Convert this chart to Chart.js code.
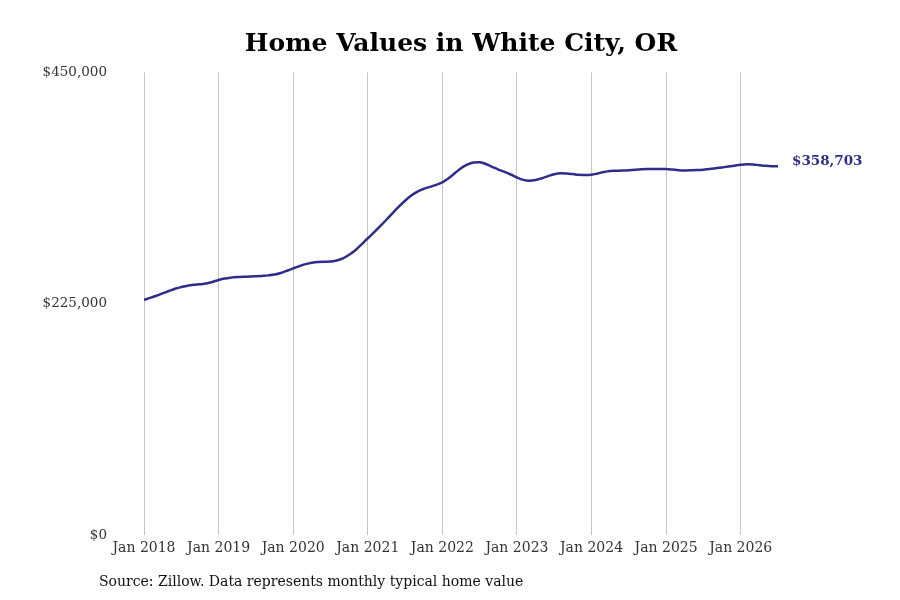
<!DOCTYPE html>
<html>
<head>
<meta charset="utf-8">
<script src="https://cdn.jsdelivr.net/npm/chart.js@4.4.1/dist/chart.umd.min.js"></script>
<style>
  html, body { margin: 0; padding: 0; background: #fff; }
  #wrap { position: relative; width: 900px; height: 600px; }
  #c { position: absolute; left: 0; top: 0; }
  #source { position: absolute; left: 99px; top: 573px; font-family: "DejaVu Serif", serif; font-size: 14px; color: #111; white-space: nowrap; }
</style>
</head>
<body>
<div id="wrap">
  <canvas id="c" width="900" height="600"></canvas>
  <div id="source">Source: Zillow. Data represents monthly typical home value</div>
</div>
<script>
const titleText = 'Home Values in White City, OR';
// Month index 0 = Jan 2018 ... 102 = Jul 2026
const homeValues = [
  228900, 230800, 232900, 235200, 237500, 239700, 241300, 242700, 243500, 244000, 244700, 246300,
  248200, 249700, 250500, 251000, 251300, 251500, 251800, 252200, 252700, 253500, 255000, 257200,
  259500, 261700, 263600, 265000, 265800, 266000, 266100, 267200, 269300, 272800, 277200, 282800,
  288800, 294500, 300500, 306800, 313300, 319500, 325300, 330300, 334200, 336800, 338800, 340700,
  343200, 347200, 352000, 356900, 360500, 362500, 362800, 361000, 358300, 355600, 353300, 350800,
  347900, 345600, 344800, 345500, 347200, 349200, 351000, 351900, 351800, 351200, 350500, 350200,
  350500, 351800, 353200, 354100, 354400, 354600, 355000, 355500, 355900, 356100, 356200, 356200,
  356100, 355600, 355000, 354800, 354900, 355100, 355500, 356100, 356900, 357700, 358500, 359400,
  360300, 360800, 360600, 359900, 359200, 358800, 358703
];
const xTickLabels = ['Jan 2018','Jan 2019','Jan 2020','Jan 2021','Jan 2022','Jan 2023','Jan 2024','Jan 2025','Jan 2026'];
const xTickMonths = [0, 12, 24, 36, 48, 60, 72, 84, 96];
const yTicks = [0, 225000, 450000];
const endLabel = '$358,703';

const lineColor = '#302d8a';
const points = homeValues.map((v, i) => ({ x: i, y: v }));

const endLabelPlugin = {
  id: 'endLabel',
  afterDatasetsDraw(chart) {
    const meta = chart.getDatasetMeta(0);
    const last = meta.data[meta.data.length - 1];
    const ctx = chart.ctx;
    ctx.save();
    ctx.font = 'bold 13.5px "DejaVu Serif"';
    ctx.fillStyle = lineColor;
    ctx.textAlign = 'left';
    ctx.textBaseline = 'middle';
    ctx.fillText(endLabel, last.x + 14, last.y - 5);
    ctx.restore();
  }
};

new Chart(document.getElementById('c'), {
  type: 'line',
  data: {
    datasets: [{
      data: points,
      borderColor: lineColor,
      borderWidth: 2.5,
      pointRadius: 0,
      fill: false,
      cubicInterpolationMode: 'monotone'
    }]
  },
  options: {
    responsive: false,
    animation: false,
    layout: { padding: { left: 0, right: 122, top: 0, bottom: 38 } },
    plugins: {
      legend: { display: false },
      tooltip: { enabled: false },
      title: {
        display: true,
        text: titleText,
        fullSize: false,
        color: '#000',
        font: { family: 'DejaVu Serif', size: 25, weight: 'bold', lineHeight: 1.2 },
        padding: { top: 29, bottom: 13.5 }
      }
    },
    scales: {
      x: {
        type: 'linear',
        min: 0,
        max: homeValues.length - 1,
        afterBuildTicks(scale) { scale.ticks = xTickMonths.map(v => ({ value: v })); },
        ticks: {
          autoSkip: false,
          maxRotation: 0,
          padding: 5,
          color: '#333',
          font: { family: 'DejaVu Serif', size: 14 },
          callback(v) { const i = xTickMonths.indexOf(v); return i >= 0 ? xTickLabels[i] : ''; }
        },
        grid: { display: true, color: '#c4c4c4', lineWidth: 1, drawTicks: false },
        border: { display: false }
      },
      y: {
        min: 0,
        max: 450000,
        afterFit(scale) { scale.width = 144; },
        afterBuildTicks(scale) { scale.ticks = yTicks.map(v => ({ value: v })); },
        ticks: {
          padding: 37,
          color: '#333',
          font: { family: 'DejaVu Serif', size: 13.5 },
          callback(v) { return '$' + Number(v).toLocaleString('en-US'); }
        },
        grid: { display: false, drawTicks: false },
        border: { display: false }
      }
    }
  },
  plugins: [endLabelPlugin]
});
</script>
</body>
</html>
